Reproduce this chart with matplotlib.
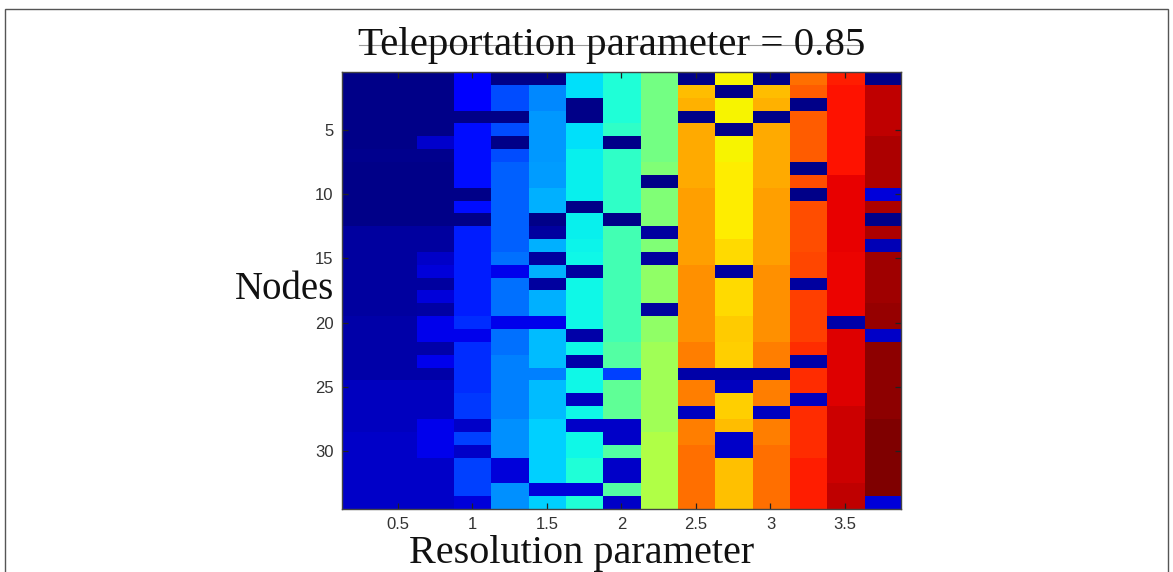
import matplotlib

matplotlib.use("Agg")
import matplotlib.pyplot as plt  # noqa: E402
import numpy as np  # noqa: E402
from matplotlib.patches import Rectangle  # noqa: E402
from matplotlib.lines import Line2D  # noqa: E402

# resolution parameter of each column, node index of each row
resolution = [0.25, 0.5, 0.75, 1.0, 1.25, 1.5, 1.75, 2.0, 2.25, 2.5, 2.75, 3.0, 3.25, 3.5, 3.75]
nodes = list(range(1, 35))

# cell values (0-100 on the jet scale), one list per node
scores = [
    [1, 1, 1, 12, 1, 1, 34.5, 39, 49, 1, 65, 1, 79, 87.5, 1],
    [1, 1, 1, 12, 20, 26, 34.5, 39, 49, 71, 1, 71, 81, 89, 94.5],
    [1, 1, 1, 12, 20, 26, 1, 39, 49, 72, 65, 72, 1, 89, 94.5],
    [1, 1, 1, 1, 1, 27.5, 1, 39, 49, 1, 65, 1, 81, 89, 94.5],
    [1, 1, 1, 14, 20, 27.5, 34.5, 41, 49, 73, 1, 73, 81, 89, 94.5],
    [1, 1, 7, 14, 1, 27.5, 34.5, 1, 49, 73, 65, 73, 81, 89, 96],
    [1.5, 1.5, 1.5, 14, 20, 27.5, 36, 41, 49, 73, 65, 73, 81, 89, 96],
    [1, 1, 1, 14, 22, 28, 36, 41, 50.5, 73, 66, 73, 1, 89, 96],
    [1, 1, 1, 14, 22, 28, 36, 41, 1, 73, 66, 73, 82.5, 91, 96],
    [1, 1, 1, 1, 22, 29.7, 36, 41, 50.5, 74, 66, 74, 1, 91, 8],
    [1, 1, 1, 14, 22, 29.7, 1, 41, 50.5, 74, 66, 74, 82.5, 91, 96],
    [1, 1, 1, 1, 22, 1, 36, 1, 50.5, 74, 66, 74, 82.5, 91, 1],
    [3, 3, 3, 15.6, 22, 3, 36, 43, 3, 74, 66, 74, 82.5, 91, 96],
    [3, 3, 3, 15.6, 22, 29.7, 36.5, 43, 50.5, 74, 67.6, 74, 82.5, 91, 5],
    [3, 3, 6.5, 15.6, 23.5, 3, 37, 43, 3, 74, 67.6, 74, 83.5, 90.3, 97.2],
    [3, 3, 8, 15.6, 9.5, 29.7, 3, 43, 52.5, 75.7, 3, 75.7, 83.5, 90.3, 97.2],
    [3, 3, 3, 15.6, 23.5, 3, 37, 43, 52.5, 75.7, 67.6, 75.7, 3, 90.3, 97.2],
    [3, 3, 8, 15.6, 23.5, 29.7, 37, 43, 52.5, 75.7, 67.6, 75.7, 84.3, 90.3, 97.2],
    [3, 3, 3.5, 15.6, 23.5, 29.7, 37, 43, 3, 75.7, 67.6, 75.7, 84.3, 90.3, 97.8],
    [3.7, 3.7, 9.5, 17, 9.5, 9.5, 37, 43, 52.5, 75.7, 69.4, 75.7, 84.3, 3.7, 97.8],
    [3.7, 3.7, 9.5, 9.5, 23.5, 31, 3.7, 43, 52.5, 75.7, 69.4, 75.7, 84.3, 91.7, 6.6],
    [3.7, 3.7, 3.7, 17, 23.5, 31, 37, 45, 54.5, 77.5, 69, 77.5, 86, 91.7, 98.6],
    [3.7, 3.7, 9.5, 17, 25, 31, 3.7, 45, 54.5, 77.5, 69, 77.5, 3.7, 91.7, 98.6],
    [3.7, 3.7, 3.7, 17, 25, 25, 37, 19, 54.5, 3.7, 3.7, 3.7, 86, 91.7, 98.6],
    [5.5, 5.5, 5.5, 17, 25, 31, 37, 46.6, 54.5, 77.5, 5.5, 77.5, 86, 91.7, 98.6],
    [5.5, 5.5, 5.5, 18, 25, 31, 5.5, 46.6, 54.5, 77.5, 69, 77.5, 5.5, 91.7, 98.6],
    [5.5, 5.5, 5.5, 18, 25, 31, 37, 46.6, 54.5, 5.5, 69, 5.5, 86, 93, 98.6],
    [5.5, 5.5, 9.5, 6.6, 26.6, 33, 6.6, 6.6, 54.5, 77.5, 71, 77.5, 86, 93, 100],
    [6.6, 6.6, 9.5, 19, 26.6, 33, 37, 6.6, 56.5, 77.5, 6.6, 77.5, 86, 93, 100],
    [6.6, 6.6, 9.5, 6.6, 26.6, 33, 37, 45, 56.5, 79, 6.6, 79, 86, 93, 100],
    [6.6, 6.6, 6.6, 19, 8, 33, 39, 6.6, 56.5, 79, 70.7, 79, 87.6, 93, 100],
    [6.6, 6.6, 6.6, 19, 8, 33, 39, 6.6, 56.5, 79, 70.7, 79, 87.6, 93, 100],
    [6.6, 6.6, 6.6, 19, 26.6, 8, 8, 45, 56.5, 79, 70.7, 79, 87.6, 94.5, 100],
    [6.6, 6.6, 6.6, 8, 26.6, 33, 39, 6.6, 56.5, 79, 70.7, 79, 87.6, 94.5, 8],
]

x_ticks = [0.5, 1, 1.5, 2, 2.5, 3, 3.5]
x_tick_labels = ["0.5", "1", "1.5", "2", "2.5", "3", "3.5"]
y_ticks = [5, 10, 15, 20, 25, 30]

W, H = 1173, 572
fig = plt.figure(figsize=(W / 100, H / 100), dpi=100)
fig.patch.set_facecolor("white")

ax = fig.add_axes([341.7 / W, 1 - 509.0 / H, (901 - 341.7) / W, (509.0 - 72.2) / H])
data = np.array(scores)
step = resolution[1] - resolution[0]
ax.imshow(data, cmap="jet", vmin=0, vmax=100, aspect="auto", interpolation="nearest",
          extent=[resolution[0] - step / 2, resolution[-1] + step / 2,
                  nodes[-1] + 0.5, nodes[0] - 0.5])

ax.set_xticks(x_ticks)
ax.set_xticklabels(x_tick_labels)
ax.set_yticks(y_ticks)
ax.tick_params(direction="in", length=4, width=0.9, top=True, right=True,
               labelsize=12, pad=6, colors="#222222")
for lab in ax.get_xticklabels() + ax.get_yticklabels():
    lab.set_fontfamily("Liberation Sans")
    lab.set_color("#333333")
for s in ax.spines.values():
    s.set_color("#444444")
    s.set_linewidth(1.0)

serif = ["Liberation Serif", "DejaVu Serif"]
fig.text(612 / W, 1 - 55 / H, "Teleportation parameter = 0.85", ha="center", va="baseline",
         fontsize=29.5, family=serif, color="#111111")
fig.text(582 / W, 1 - 563 / H, "Resolution parameter", ha="center", va="baseline",
         fontsize=29, family=serif, color="#111111")
fig.text(284 / W, 1 - 299 / H, "Nodes", ha="center", va="baseline",
         fontsize=28, family=serif, color="#111111")

# faint rule crossing the title, as in the source image
fig.add_artist(Line2D([359 / W, 860 / W], [1 - 45 / H, 1 - 45 / H], transform=fig.transFigure,
                      color="#9a9a9a", lw=0.8, zorder=0))

# frame around the whole picture
fig.add_artist(Rectangle((5 / W, -0.05), 1163 / W, 1.05 - 9 / H, transform=fig.transFigure,
                         fill=False, edgecolor="#555555", lw=1.0))

fig.savefig("out.png", dpi=100, facecolor="white")
